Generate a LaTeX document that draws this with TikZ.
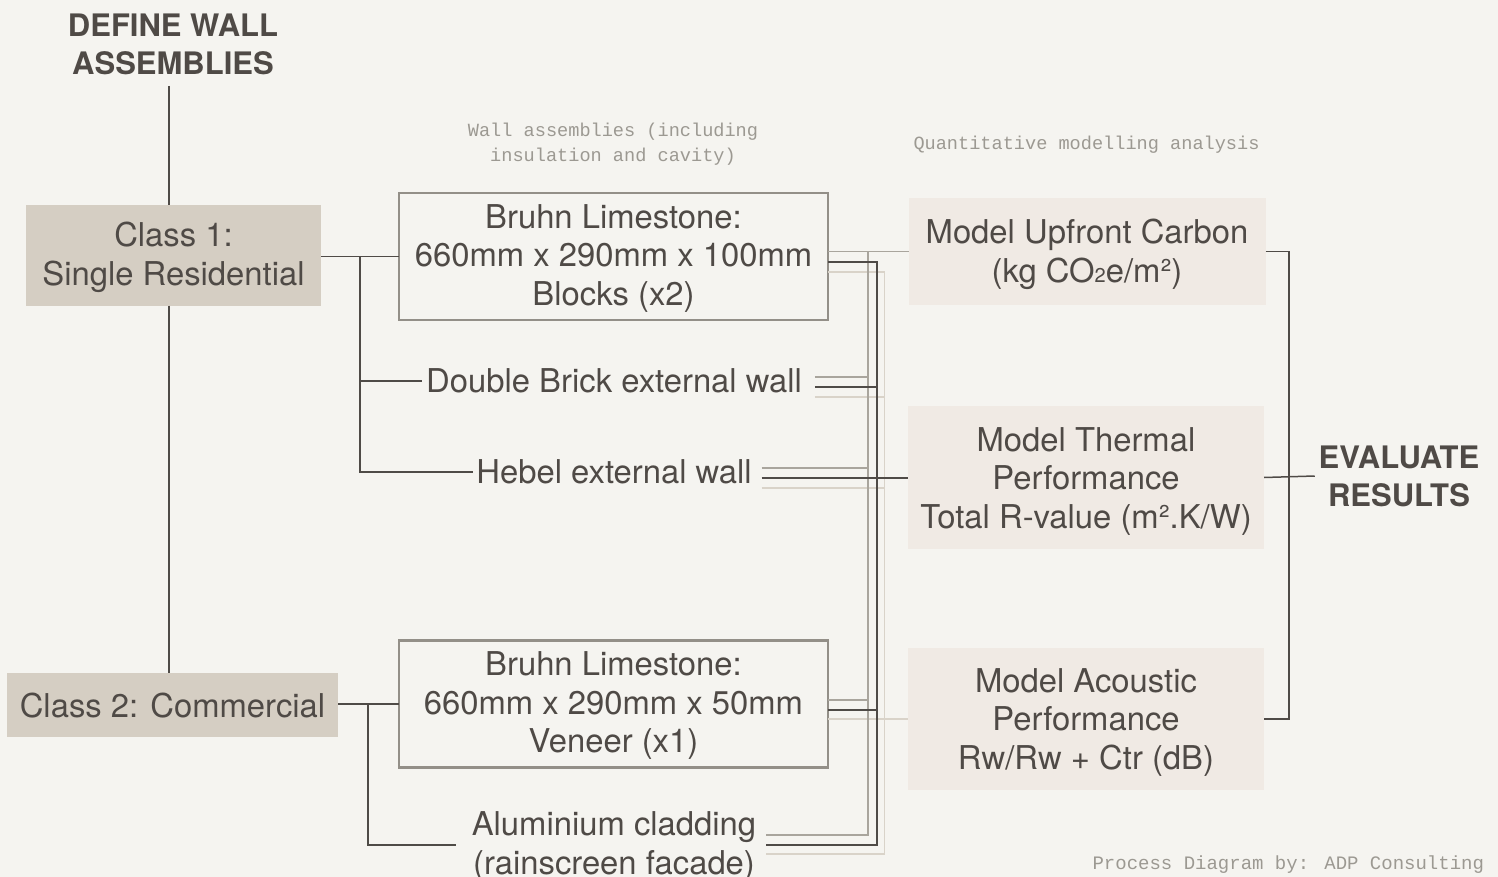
\documentclass[tikz,border=0pt]{standalone}
\usepackage{fontspec}
\setmainfont{TeX Gyre Heros}
\newfontfamily\monofont{Liberation Mono}
\usetikzlibrary{calc}
\definecolor{bg}{HTML}{F5F4F0}
\definecolor{txt}{HTML}{4F4A46}
\definecolor{subtxt}{HTML}{9C9992}
\definecolor{classfill}{HTML}{D5CEC3}
\definecolor{modelfill}{HTML}{F0EAE4}
\definecolor{boxline}{HTML}{938F88}
\definecolor{conncol}{HTML}{4F4B47}
\definecolor{busgray}{HTML}{A9A59D}
\definecolor{buslight}{HTML}{D9D3C9}
% #1 = distance from the box centre down to the baseline of the last line
\newcommand{\boxlines}[2]{\raisebox{-#1}[0pt][0pt]{\begin{tabular}[b]{@{}c@{}}#2\end{tabular}}}
\begin{document}
\begin{tikzpicture}[x=1pt,y=-1pt,
  txtstyle/.style={inner sep=0pt, outer sep=0pt, align=center, text=txt, font=\fontsize{32.8}{38.5}\selectfont},
  heading/.style={txtstyle, font=\bfseries\fontsize{31}{38}\selectfont},
  smallnote/.style={inner sep=0pt, outer sep=0pt, align=center, text=subtxt, font=\monofont\fontsize{18.6}{25.5}\selectfont},
  boxtext/.style={inner sep=0pt, outer sep=0pt, text=txt, font=\fontsize{32.8}{38.5}\selectfont},
  classbox/.style={boxtext, fill=classfill},
  wallbox/.style={boxtext, draw=boxline, line width=2.5pt, minimum width=429pt, minimum height=127pt},
  modelbox/.style={boxtext, fill=modelfill, minimum width=357pt},
  conn/.style={draw=conncol, line width=1.5pt},
  busA/.style={draw=busgray, line width=1.5pt},
  busB/.style={draw=conncol, line width=1.5pt},
  busC/.style={draw=buslight, line width=1.5pt},
]
\fill[bg] (0,0) rectangle (1498,877);
\useasboundingbox (0,0) rectangle (1498,877);

% nodes
\node[heading] (define) at (173,44) {DEFINE WALL\\ASSEMBLIES};
\node[classbox, minimum width=295pt, minimum height=100pt] (c1) at (173.5,255.5) {\boxlines{29.5pt}{Class 1:\\Single Residential}};
\node[classbox, minimum width=331pt, minimum height=64pt] (c2) at (172.5,705) {\boxlines{12pt}{Class 2: Commercial}};
\node[wallbox] (b1) at (613.5,256.5) {\boxlines{48.5pt}{Bruhn Limestone:\\660mm x 290mm x 100mm\\Blocks (x2)}};
\node[wallbox] (b2) at (613.5,704) {\boxlines{48.5pt}{Bruhn Limestone:\\660mm x 290mm x 50mm\\Veneer (x1)}};
\node[txtstyle] (db) at (614,381) {Double Brick external wall};
\node[txtstyle] (hb) at (614,472) {Hebel external wall};
\node[txtstyle] (alu) at (614,846.5) {Aluminium cladding\\(rainscreen facade)};
\node[smallnote] (wl) at (613,144) {Wall assemblies (including\\insulation and cavity)};
\node[smallnote] (ql) at (1086.5,145) {Quantitative modelling analysis};
\node[modelbox, minimum height=107pt] (up) at (1087,251.5) {\boxlines{30.5pt}{Model Upfront Carbon\\(kg CO{\fontsize{20}{20}\selectfont 2}e/m²)}};
\node[modelbox, minimum width=356pt, minimum height=143pt] (th) at (1086,477.5) {\boxlines{50.5pt}{Model Thermal\\Performance\\Total R-value (m².K/W)}};
\node[modelbox, minimum width=356pt, minimum height=142pt] (ac) at (1086,719) {\boxlines{50pt}{Model Acoustic\\Performance\\Rw/Rw + Ctr (dB)}};
\node[heading] (ev) at (1399,476) {EVALUATE\\RESULTS};
\node[smallnote, anchor=east, font=\monofont\fontsize{19}{25}\selectfont] (pd) at (1484,865) {Process Diagram by: ADP Consulting};

% helper coordinates
\coordinate (spine) at (169,0);
\coordinate (deftop) at (169,86);
\coordinate (k1) at (360,0);
\coordinate (k2) at (368,0);
\coordinate (xg) at (868,0);
\coordinate (xd) at (877,0);
\coordinate (xl) at (884.5,0);
\coordinate (br) at (1289,0);

% left tree
\draw[conn] (deftop) -- (spine |- c1.north);
\draw[conn] (spine |- c1.south) -- (spine |- c2.north);
\draw[conn] (c1.east |- b1.west) -- (b1.west);
\draw[conn] (k1 |- b1.west) |- ($(hb.west)+(-3,0)$);
\draw[conn] (k1 |- db.west) -- ($(db.west)+(-4,0)$);
\draw[conn] (c2.east |- b2.west) -- (b2.west);
\draw[conn] (k2 |- b2.west) |- ($(alu.west)+(-16,-1.5)$);

% bus branch points
\coordinate (gdb) at ($(db.east)+(13,-4)$);
\coordinate (ddb) at ($(db.east)+(13,6)$);
\coordinate (ldb) at ($(db.east)+(13,16)$);
\coordinate (ghb) at ($(hb.east)+(10,-4)$);
\coordinate (dhb) at ($(hb.east)+(10,6)$);
\coordinate (lhb) at ($(hb.east)+(10,16)$);
\coordinate (galu) at ($(alu.east)+(10,-11.5)$);
\coordinate (dalu) at ($(alu.east)+(10,-1.5)$);
\coordinate (lalu) at ($(alu.east)+(10,7.5)$);
\coordinate (gb2) at ($(b2.east)+(0,-4)$);
\coordinate (db1) at ($(b1.east)+(0,5.5)$);
\coordinate (db2) at ($(b2.east)+(0,6)$);
\coordinate (lb1) at ($(b1.east)+(0,15.5)$);

% light bus (to acoustic)
\draw[busC] (lb1) -- (xl |- lb1) -- (xl |- lalu) -- (lalu);
\draw[busC] (ldb) -- (xl |- ldb);
\draw[busC] (lhb) -- (xl |- lhb);
\draw[busC] (b2.east |- ac.west) -- (ac.west);

% gray bus (to upfront carbon)
\draw[busA] (b1.east |- up.west) -- (up.west);
\draw[busA] (xg |- up.west) -- (xg |- galu) -- (galu);
\draw[busA] (gdb) -- (xg |- gdb);
\draw[busA] (ghb) -- (xg |- ghb);
\draw[busA] (gb2) -- (xg |- gb2);

% dark bus (to thermal)
\draw[busB] (db1) -- (xd |- db1) -- (xd |- dalu) -- (dalu);
\draw[busB] (ddb) -- (xd |- ddb);
\draw[busB] (dhb) -- (th.west |- dhb);
\draw[busB] (db2) -- (xd |- db2);

% evaluate bracket
\draw[conn] (up.east) -| (br |- ac.east) -- (ac.east);
\draw[conn] (th.east) -- ($(ev.west)+(-4,0)$);
\end{tikzpicture}
\end{document}
